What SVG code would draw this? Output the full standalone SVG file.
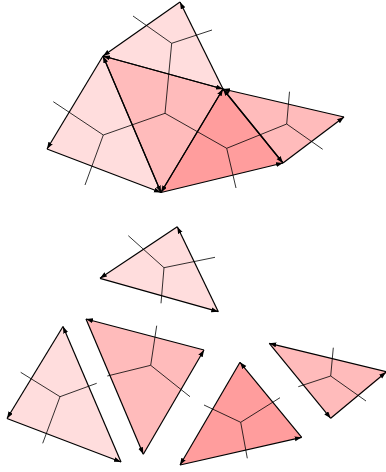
<svg xmlns="http://www.w3.org/2000/svg" width="386" height="472" viewBox="0 0 386 472">
<defs>
<marker id="ah" markerUnits="userSpaceOnUse" markerWidth="8" markerHeight="6" refX="7" refY="2.5" orient="auto">
<path d="M0,0 L7,2.5 L0,5 z" fill="#000"/>
</marker>
<style>
.l{fill:#ffdddd;stroke:none}
.m{fill:#ffbbbb;stroke:none}
.d{fill:#ff9d9d;stroke:none}
.e{stroke:#000;stroke-width:1.2;fill:none;marker-end:url(#ah)}
.v{stroke:#000;stroke-width:0.8;fill:none}
</style>
</defs>
<rect width="386" height="472" fill="#fff"/>
<g id="t1"><polygon class="l" points="180,2 103,56 223,89"/></g>
<g id="t2"><polygon class="l" points="103,56 47,149 161,192.5"/></g>
<g id="t3"><polygon class="m" points="103,56 161,192.5 223,89"/></g>
<g id="t4"><polygon class="d" points="223,89 161,192.5 283,163"/></g>
<g id="t5"><polygon class="m" points="223,89 283,163 344,117"/></g>
<g id="m1"><polygon class="l" points="177.3,226.7 100,278.3 218.3,311.7"/></g>
<g id="b1"><polygon class="l" points="63,326.5 7,418.5 121,462"/></g>
<g id="b2"><polygon class="m" points="86,319 143.3,454.3 204,350"/></g>
<g id="b3"><polygon class="d" points="240,362.3 180,465 301.7,437.3"/></g>
<g id="b4"><polygon class="m" points="269.3,343.3 330.7,418.3 388,372"/></g>
<g id="dual">
<polyline class="v" points="133,16 171.7,43.3 212,30"/>
<line class="v" x1="171.7" y1="43.3" x2="165" y2="113.3"/>
<polyline class="v" points="53.3,101.7 103.3,135 85,185"/>
<line class="v" x1="103.3" y1="135" x2="165" y2="113.3"/>
<line class="v" x1="165" y1="113.3" x2="226.7" y2="148.3"/>
<polyline class="v" points="236,188 226.7,148.3 286.7,124"/>
<polyline class="v" points="289.5,91.7 286.7,124 322.7,149.3"/>
<path class="v" d="M128.3,235.7 L164,267.7 L215,257.3 M164,267.7 L161,303.3"/>
<path class="v" d="M20.7,372.3 L60,396.7 L96.7,383.3 M60,396.7 L42.7,443.3"/>
<path class="v" d="M156.7,325.7 L150.7,365.3 L107.3,376 M150.7,365.3 L190,396.7"/>
<path class="v" d="M204,405 L240.7,422.3 L280,397.7 M240.7,422.3 L247.3,458.3"/>
<path class="v" d="M333.3,347.7 L330.7,376 L298.3,386.7 M330.7,376 L366,401"/>
</g>
<g id="connectors">
<line class="e" x1="180" y1="2" x2="103" y2="56"/>
<line class="e" x1="103" y1="56" x2="223" y2="89"/>
<line class="e" x1="223" y1="89" x2="180" y2="2"/>
<line class="e" x1="103" y1="56" x2="47" y2="149"/>
<line class="e" x1="47" y1="149" x2="161" y2="192.5"/>
<line class="e" x1="161" y1="192.5" x2="103" y2="56"/>
<line class="e" x1="103" y1="56" x2="161" y2="192.5"/>
<line class="e" x1="161" y1="192.5" x2="223" y2="89"/>
<line class="e" x1="223" y1="89" x2="103" y2="56"/>
<line class="e" x1="223" y1="89" x2="161" y2="192.5"/>
<line class="e" x1="161" y1="192.5" x2="283" y2="163"/>
<line class="e" x1="283" y1="163" x2="223" y2="89"/>
<line class="e" x1="223" y1="89" x2="283" y2="163"/>
<line class="e" x1="283" y1="163" x2="344" y2="117"/>
<line class="e" x1="344" y1="117" x2="223" y2="89"/>
<line class="e" x1="177.3" y1="226.7" x2="100" y2="278.3"/>
<line class="e" x1="100" y1="278.3" x2="218.3" y2="311.7"/>
<line class="e" x1="218.3" y1="311.7" x2="177.3" y2="226.7"/>
<line class="e" x1="63" y1="326.5" x2="7" y2="418.5"/>
<line class="e" x1="7" y1="418.5" x2="121" y2="462"/>
<line class="e" x1="121" y1="462" x2="63" y2="326.5"/>
<line class="e" x1="86" y1="319" x2="143.3" y2="454.3"/>
<line class="e" x1="143.3" y1="454.3" x2="204" y2="350"/>
<line class="e" x1="204" y1="350" x2="86" y2="319"/>
<line class="e" x1="240" y1="362.3" x2="180" y2="465"/>
<line class="e" x1="180" y1="465" x2="301.7" y2="437.3"/>
<line class="e" x1="301.7" y1="437.3" x2="240" y2="362.3"/>
<line class="e" x1="269.3" y1="343.3" x2="330.7" y2="418.3"/>
<line class="e" x1="330.7" y1="418.3" x2="386" y2="372.1"/>
<line class="e" x1="388" y1="372" x2="269.3" y2="343.3"/>
</g>
</svg>
